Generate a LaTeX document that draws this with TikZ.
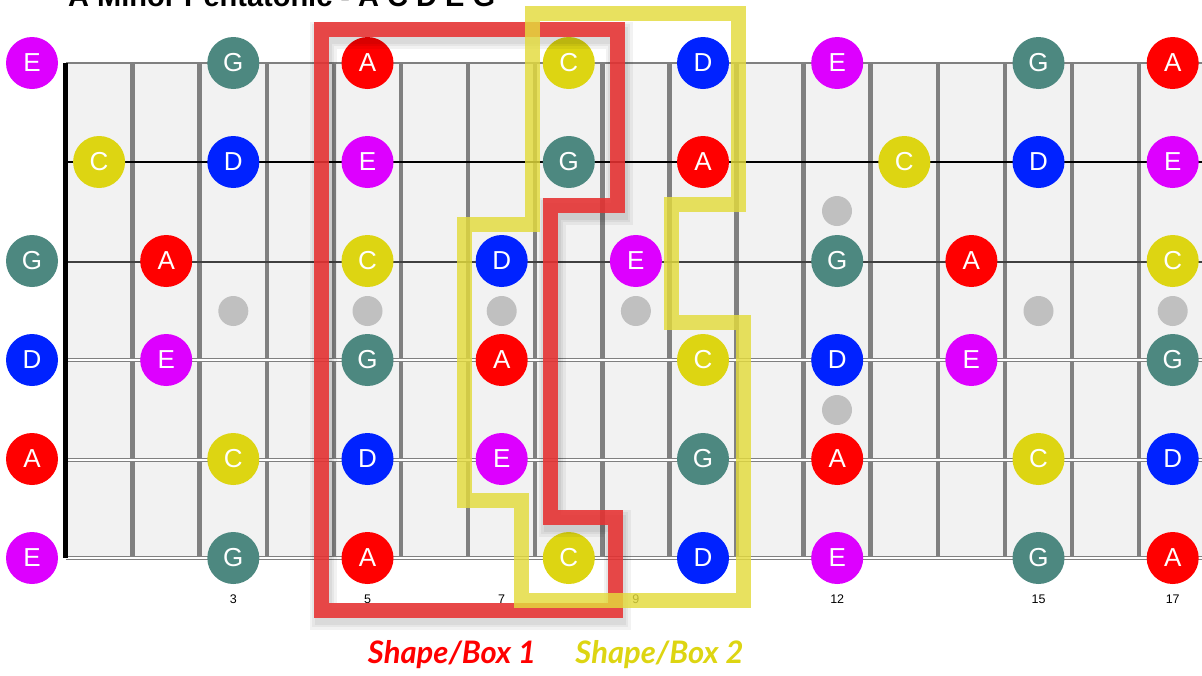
\documentclass[tikz,border=0pt]{standalone}
\usepackage{fontspec}
\setmainfont{Liberation Sans}
\newfontfamily\boxfont{Lato}
\usetikzlibrary{positioning}
\definecolor{noteE}{HTML}{DD00FF}
\definecolor{noteG}{HTML}{4D8880}
\definecolor{noteA}{HTML}{FF0000}
\definecolor{noteC}{HTML}{DDD512}
\definecolor{noteD}{HTML}{0022FF}
\definecolor{fretbg}{HTML}{F2F2F2}
\definecolor{fretwire}{HTML}{808080}
\definecolor{dotgray}{HTML}{C0C0C0}
\definecolor{boxred}{HTML}{E83232}
\definecolor{boxyellow}{HTML}{E3DB3C}

\begin{document}
\begin{tikzpicture}[x=1pt, y=-1pt,
    note/.style={circle, minimum size=52pt, inner sep=0pt, text=white,
      font=\fontsize{26}{26}\selectfont},
    marker/.style={circle, fill=dotgray, minimum size=30pt, inner sep=0pt},
    fretnum/.style={inner sep=0pt, font=\fontsize{12.5}{12.5}\selectfont},
    boxline/.style={line width=15pt, line join=miter},
    boxlabel/.style={inner sep=0pt, font=\boxfont\bfseries\itshape\fontsize{31}{31}\selectfont}]
  \useasboundingbox (0,0) rectangle (1202,675);

  % title, cut off at the top of the page
  \node[anchor=base west, inner sep=0pt, font=\bfseries\fontsize{29}{29}\selectfont]
    (title) at (68,6) {A Minor Pentatonic - A C D E G};

  % fretboard, frets and inlays
  \fill[fretbg] (66,63) rectangle (1202,558);
  \foreach \k in {1,...,17}
    \draw[fretwire, line width=4.5pt] (65.5+67.1*\k,63) -- (65.5+67.1*\k,558);
  \foreach \f in {3,5,7,9,15,17}
    \node[marker] (inlay-\f) at (32+67.1*\f,311) {};
  \node[marker] (inlay-12a) at (837,211) {};
  \node[marker] (inlay-12b) at (837,410) {};

  % strings
  \draw[fretwire, line width=2pt] (66,63) -- (1202,63);
  \draw[black, line width=1.2pt] (66,162) -- (1202,162);
  \draw[black!75, line width=1.2pt] (66,262) -- (1202,262);
  \foreach \y in {360,460,558}
    \draw[draw=gray, double=white, double distance=1.3pt, line width=0.9pt] (66,\y) -- (1202,\y);
  \draw[black, line width=5.5pt] (65.5,63) -- (65.5,558);

  % notes: string/fret/name
  \foreach \s/\f/\n in {1/0/E, 1/3/G, 1/5/A, 1/8/C, 1/10/D, 1/12/E, 1/15/G, 1/17/A,
      2/1/C, 2/3/D, 2/5/E, 2/8/G, 2/10/A, 2/13/C, 2/15/D, 2/17/E,
      3/0/G, 3/2/A, 3/5/C, 3/7/D, 3/9/E, 3/12/G, 3/14/A, 3/17/C,
      4/0/D, 4/2/E, 4/5/G, 4/7/A, 4/10/C, 4/12/D, 4/14/E, 4/17/G,
      5/0/A, 5/3/C, 5/5/D, 5/7/E, 5/10/G, 5/12/A, 5/15/C, 5/17/D,
      6/0/E, 6/3/G, 6/5/A, 6/8/C, 6/10/D, 6/12/E, 6/15/G, 6/17/A}
    \node[note, fill=note\n] (n\s-\f) at (32+67.1*\f,63+99*\s-99) {\n};

  \foreach \f in {3,5,7,9,12,15,17}
    \node[fretnum] (num-\f) at (32+67.1*\f,599) {\f};

  % box 1 with a soft shadow, then box 2
  \foreach \w in {27,22,17}
    \draw[line width=\w pt, line join=miter, black, opacity=0.05, shift={(2,6)}]
      (321,29) -- (617,29) -- (617,205) -- (550,205) -- (550,517) -- (615,517)
      -- (615,610) -- (321,610) -- cycle;
  \draw[boxline, boxred, opacity=0.88]
    (321,29) -- (617,29) -- (617,205) -- (550,205) -- (550,517) -- (615,517)
    -- (615,610) -- (321,610) -- cycle;
  \draw[boxline, boxyellow, opacity=0.82]
    (532,13) -- (738,13) -- (738,204) -- (671,204) -- (671,322) -- (743,322)
    -- (743,600) -- (521,600) -- (521,500) -- (464,500) -- (464,224)
    -- (532,224) -- cycle;

  \node[boxlabel, text=noteA] (box1) at (452,655) {Shape/Box 1};
  \node[boxlabel, text=noteC, right=39pt of box1] (box2) {Shape/Box 2};
\end{tikzpicture}
\end{document}
